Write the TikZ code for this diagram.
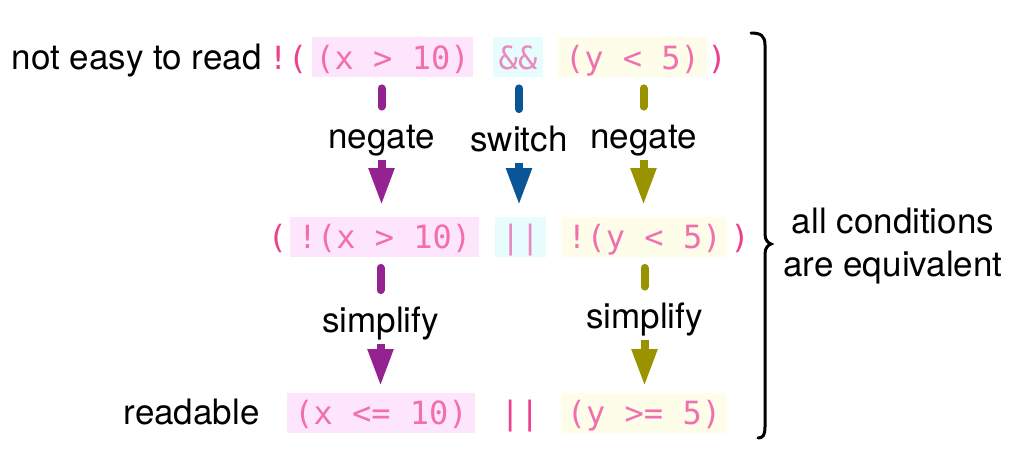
\documentclass[tikz,border=0pt]{standalone}
\usepackage{fontspec}
\setmainfont{TeX Gyre Heros}
\newfontfamily\codefont{DejaVu Sans Mono}
\usepackage{tikz}
\usetikzlibrary{arrows.meta, positioning}

\definecolor{magdark}{HTML}{EC3F8C}
\definecolor{maglight}{HTML}{F26FAE}
\definecolor{oplight}{HTML}{E88AC0}
\definecolor{pinkbg}{HTML}{FDE6FB}
\definecolor{cyanbg}{HTML}{E6FCFD}
\definecolor{yellowbg}{HTML}{FEFDEA}
\definecolor{purplearr}{HTML}{952291}
\definecolor{bluearr}{HTML}{0A5595}
\definecolor{olivearr}{HTML}{9A9300}

\begin{document}
\begin{tikzpicture}[x=0.5pt, y=-0.5pt]
	\tikzstyle{code} = [rectangle, inner sep=0pt, minimum height=20pt, text height=15pt, text depth=3pt, font=\codefont\fontsize{16pt}{18pt}\selectfont]
	\tikzstyle{cbox} = [code, text=maglight, text centered]
	\tikzstyle{lead} = [inner sep=0pt, text height=15pt, text depth=3pt, anchor=east, font=\fontsize{17.5pt}{21.5pt}\selectfont]
	\tikzstyle{verb} = [inner sep=0pt, minimum height=24.5pt, text height=14pt, text depth=1pt, font=\fontsize{17.5pt}{21.5pt}\selectfont]
	\tikzstyle{stub} = [line width=4pt, line cap=round, shorten <=5.5pt, shorten >=2pt]
	\tikzstyle{arrow} = [line width=4pt, -{Triangle[width=12pt, length=18.5pt]}, shorten >=5.5pt]

	\useasboundingbox (0,0) rectangle (1024,451);

	\node[lead](hard) at (262,57){not easy to read};
	\node[code, text=magdark](open1) at (288,57){!(};
	\node[cbox, fill=pinkbg, minimum width=80.5pt](xa) at (392.5,57){(x > 10)};
	\node[cbox, fill=cyanbg, text=oplight, minimum width=25pt](anda) at (518,57){\&\&};
	\node[cbox, fill=yellowbg, minimum width=74.5pt](ya) at (632.5,57){(y < 5)};
	\node[code, text=magdark](close1) at (717,57){)};

	\node[code, text=magdark](open2) at (277.5,236.5){(};
	\node[cbox, fill=pinkbg, minimum width=94.5pt](xb) at (384.5,236.5){!(x > 10)};
	\node[cbox, fill=cyanbg, text=oplight, minimum width=25.5pt](orb) at (520.5,236.5){||};
	\node[cbox, fill=yellowbg, minimum width=82.5pt](yb) at (644.5,236.5){!(y < 5)};
	\node[code, text=magdark](close2) at (740,236.5){)};

	\node[lead](easy) at (260,412.5){readable};
	\node[cbox, fill=pinkbg, minimum width=94pt](xc) at (381,412.5){(x <= 10)};
	\node[code, text=magdark](orc) at (520,412.5){||};
	\node[cbox, fill=yellowbg, minimum width=83pt](yc) at (644,412.5){(y >= 5)};

	\node[verb](nega) at (381.5,135.5){negate};
	\draw[stub, purplearr] (xa.south -| nega.north) to (nega.north);
	\draw[arrow, purplearr] (nega.south) to (xb.north -| nega.south);

	\node[verb](swa) at (519,138){switch};
	\draw[stub, bluearr] (anda.south -| swa.north) to (swa.north);
	\draw[arrow, bluearr] (swa.south) to (orb.north -| swa.south);

	\node[verb](negb) at (643.5,135.5){negate};
	\draw[stub, olivearr] (ya.south -| negb.north) to (negb.north);
	\draw[arrow, olivearr] (negb.south) to (yb.north -| negb.south);

	\node[verb](simpa) at (380.5,319){simplify};
	\draw[stub, purplearr] (xb.south -| simpa.north) to (simpa.north);
	\draw[arrow, purplearr, shorten >=3pt] (simpa.south) to (xc.north -| simpa.south);

	\node[verb](simpb) at (644.5,315.5){simplify};
	\draw[stub, olivearr] (yb.south -| simpb.north) to (simpb.north);
	\draw[arrow, olivearr, shorten >=3pt] (simpb.south) to (yc.north -| simpb.south);

	\draw[line width=1.5pt, line cap=round] (751,33) .. controls (761,33) and (765,36) .. (765,45) -- (765,234) .. controls (765,240) and (768,243) .. (771,244) .. controls (768,245) and (765,248) .. (765,254) -- (765,427) .. controls (765,435) and (763,438) .. (758,438);

	\node[align=center, font=\fontsize{17.5pt}{21.5pt}\selectfont](equiv) at (893,246){all conditions\\are equivalent};

\end{tikzpicture}
\end{document}
